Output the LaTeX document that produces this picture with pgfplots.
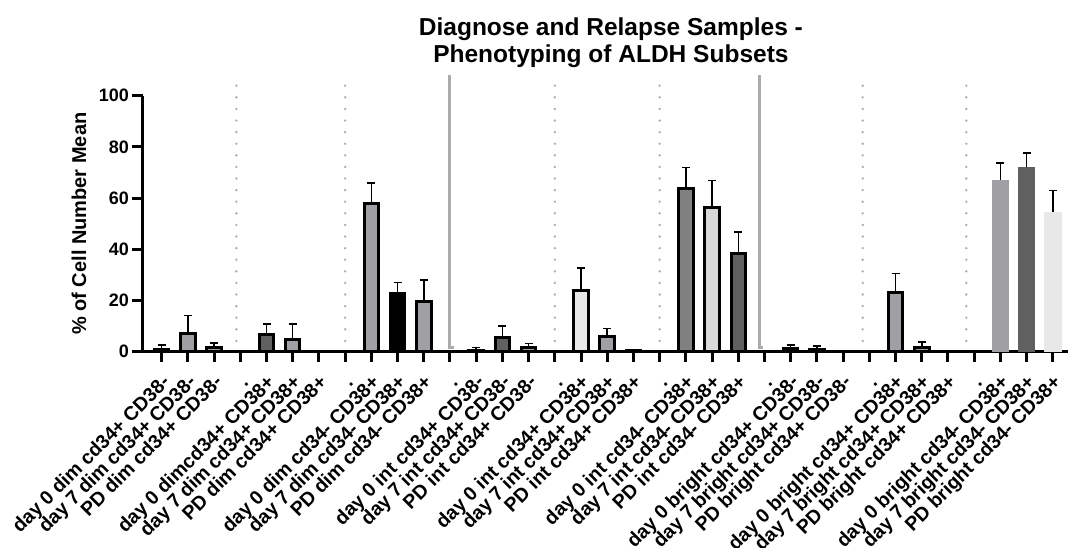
\documentclass[border=0pt]{standalone}
\usepackage{pgfplots}
\pgfplotsset{compat=1.18}
\usepackage{fontspec}
\setmainfont{Liberation Sans}
\definecolor{gA}{HTML}{A0A0A4}
\definecolor{gD}{HTML}{606060}
\definecolor{gL}{HTML}{E8E8E8}
\definecolor{gM}{HTML}{808080}
\definecolor{gLL}{HTML}{D8D8D8}
\definecolor{sep}{HTML}{ABABAB}
\tikzset{dotsep/.style={sep, line width=2.6pt, line cap=round, dash pattern=on 0pt off 11.6pt},
  solsep/.style={sep, line width=3pt}}
\begin{document}
\begin{tikzpicture}
\begin{axis}[
  scale only axis, width=925pt, height=256pt,
  xmin=-0.713, xmax=34.58, ymin=0, ymax=100,
  axis lines*=left,
  axis line style={line width=3pt, -},
  clip=false,
  tick align=outside,
  major tick length=10.5pt,
  tick style={line width=3pt, black},
  ytick={0,20,40,60,80,100},
  xtick={0,...,34},
  xticklabels={day 0 dim cd34+ CD38-, day 7 dim cd34+ CD38-, PD dim cd34+ CD38-, .,
    day 0 dimcd34+ CD38+, day 7 dim cd34+ CD38+, PD dim cd34+ CD38+, .,
    day 0 dim cd34- CD38+, day 7 dim cd34- CD38+, PD dim cd34- CD38+, .,
    day 0 int cd34+ CD38-, day 7 int cd34+ CD38-, PD int cd34+ CD38-, .,
    day 0 int cd34+ CD38+, day 7 int cd34+ CD38+, PD int cd34+ CD38+, .,
    day 0 int cd34- CD38+, day 7 int cd34- CD38+, PD int cd34- CD38+, .,
    day 0 bright cd34+ CD38-, day 7 bright cd34+ CD38-, PD bright cd34+ CD38-, .,
    day 0 bright cd34+ CD38+, day 7 bright cd34+ CD38+, PD bright cd34+ CD38+, .,
    day 0 bright cd34- CD38+, day 7 bright cd34- CD38+, PD bright cd34- CD38+},
  xticklabel style={font=\fontsize{19.5}{20}\selectfont\bfseries, rotate=45, anchor=east,
    text height=0.72em, text depth=0.21em, inner sep=0pt, xshift=-8.4pt, yshift=-18.8pt},
  yticklabel style={font=\fontsize{18}{20}\selectfont\bfseries},
  /pgf/number format/assume math mode=true,
  ylabel={\% of Cell Number Mean},
  ylabel style={font=\fontsize{20}{22}\selectfont\bfseries, at={(axis description cs:-0.0692,0.5)}, anchor=center},
  every axis plot/.append style={ybar, bar shift=0pt,
    error bars/y dir=plus, error bars/y explicit,
    error bars/error bar style={line width=1.5pt, black},
    error bars/error mark options={rotate=90, mark size=4pt, line width=1.5pt, black}},
]
% bordered bars
\addplot[bar width=14.5pt, fill=gA, draw=black, line width=3pt] coordinates {
 (0,0.8) +- (0,1.8)
 (1,7.2) +- (0,6.9)
 (2,1.5) +- (0,1.9)
 (5,4.9) +- (0,5.9)
 (6,0.1) +- (0,0)
 (8,57.8) +- (0,8.1)
 (10,19.7) +- (0,8.4)
 (12,0.3) +- (0,1.3)
 (14,1.8) +- (0,1.5)
 (17,5.8) +- (0,3.3)
 (18,0.3) +- (0,0.5)
 (24,1.2) +- (0,1.4)
 (25,0.7) +- (0,1.5)
 (26,0.2) +- (0,0)
 (28,23.1) +- (0,7.4)
 (29,1.6) +- (0,2.1)
 (30,0.1) +- (0,0)
};
\addplot[bar width=14.5pt, fill=gD, draw=black, line width=3pt] coordinates {
 (4,6.8) +- (0,4.1)
 (13,5.7) +- (0,4.3)
 (22,38.5) +- (0,8.3)
};
\addplot[bar width=14.5pt, fill=black, draw=black, line width=3pt] coordinates {
 (9,22.6) +- (0,4.4)
};
\addplot[bar width=14.5pt, fill=gL, draw=black, line width=3pt] coordinates {
 (16,24.0) +- (0,8.7)
};
\addplot[bar width=14.5pt, fill=gM, draw=black, line width=3pt] coordinates {
 (20,63.6) +- (0,8.3)
};
\addplot[bar width=14.5pt, fill=gLL, draw=black, line width=3pt] coordinates {
 (21,56.2) +- (0,10.6)
};
% borderless bars
\addplot[bar width=17.7pt, fill=gA, draw=none] coordinates {(32,67.2) +- (0,6.6)};
\addplot[bar width=17.7pt, fill=gD, draw=none] coordinates {(33,72.3) +- (0,5.4)};
\addplot[bar width=17.7pt, fill=gL, draw=none] coordinates {(34,54.6) +- (0,8.3)};
% separators
\draw[dotsep] (axis cs:2.85,4.2) -- (axis cs:2.85,108);
\draw[dotsep] (axis cs:7,4.2) -- (axis cs:7,108);
\draw[dotsep] (axis cs:15,4.2) -- (axis cs:15,108);
\draw[dotsep] (axis cs:19,4.2) -- (axis cs:19,108);
\draw[dotsep] (axis cs:26.75,4.2) -- (axis cs:26.75,108);
\draw[dotsep] (axis cs:30.7,4.2) -- (axis cs:30.7,108);
\draw[solsep] (axis cs:11,108) -- (axis cs:11,1.8) -- (axis cs:11.15,1.8);
\draw[solsep] (axis cs:22.8,108) -- (axis cs:22.8,1.8) -- (axis cs:22.95,1.8);
\node[font=\fontsize{24.5}{26}\selectfont\bfseries, anchor=base] at (axis cs:17.14,123.7) {Diagnose and Relapse Samples -};
\node[font=\fontsize{24.5}{26}\selectfont\bfseries, anchor=base] at (axis cs:17.14,112.8) {Phenotyping of ALDH Subsets};
\end{axis}
\pgfresetboundingbox
\path ([shift={(-143pt,351.7pt)}]current axis.south west) rectangle ++(1068pt,-548pt);
\end{tikzpicture}
\end{document}
